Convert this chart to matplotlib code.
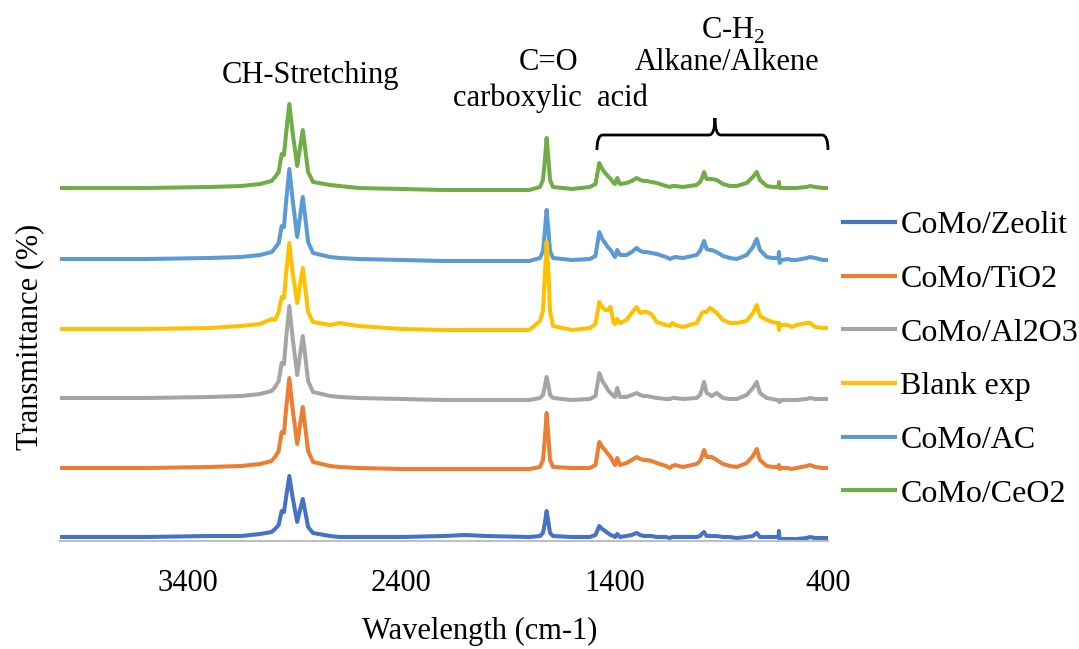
import matplotlib
matplotlib.use('Agg')
import matplotlib.pyplot as plt
from matplotlib.path import Path
from matplotlib.patches import PathPatch
from matplotlib.lines import Line2D

plt.rcParams['font.family'] = ['Liberation Serif', 'DejaVu Serif']
plt.rcParams['mathtext.fontset'] = 'custom'
plt.rcParams['mathtext.rm'] = 'Liberation Serif'

# wavenumber grid (cm-1)
wn = [4000, 3600, 3300, 3150, 3062, 3008, 2992, 2975, 2961, 2950,
      2940, 2925, 2910, 2888, 2875, 2862, 2850, 2837, 2814, 2734,
      2690, 2600, 2400, 2200, 2100, 2000, 1800, 1750, 1736, 1727,
      1719, 1710, 1703, 1689, 1600, 1516, 1490, 1472, 1458, 1445,
      1432, 1419, 1405, 1398, 1388, 1375, 1344, 1320, 1297, 1280,
      1265, 1250, 1228, 1203, 1160, 1141, 1130, 1117, 1080, 1016,
      1000, 992, 981, 969, 953, 945, 922, 892, 860, 828,
      781, 752, 734, 719, 687, 660, 641, 632, 630, 627,
      617, 590, 570, 547, 500, 484, 460, 423, 400]

# signal above each trace's own baseline
zeolit = [0, 0, 1, 1, 3, 5, 8, 12, 26, 25,
          40, 61, 40, 15, 27, 38, 25, 10, 4, 1,
          0, 0, 0, 1, 2, 1, 0, 1, 4, 14,
          26, 14, 4, 1, 0, 0, 2, 11, 8, 6,
          4, 2, 1, 0, 3, 0, 1, 2, 4, 2,
          1, 1, 1, 0, 0, -1, 0, 0, 0, 0,
          1, 3, 5, 1, 1, 1, 1, 0, 0, -1,
          0, 1, 4, 0, 0, 0, 0, 0, 6, -5,
          -2, -2, -2, -2, -1, 0, -1, -1, -1]
tio2 = [0, 0, 1, 2, 4, 7, 11, 17, 36, 35,
        59, 90, 60, 24, 43, 61, 40, 17, 6, 2,
        1, 0, -1, -1, -1, -1, -1, 1, 8, 30,
        55, 30, 8, 1, 0, 0, 3, 26, 21, 18,
        14, 11, 5, 3, 10, 3, 5, 8, 11, 9,
        8, 8, 7, 5, 2, 0, 2, 3, 1, 4,
        7, 11, 18, 11, 11, 11, 8, 4, 2, 1,
        5, 12, 19, 8, 2, 1, 1, 1, 3, -1,
        0, 0, -1, 0, 2, 3, 1, 0, 0]
al2o3 = [0, 0, 1, 2, 4, 7, 11, 17, 35, 34,
         60, 92, 61, 23, 43, 62, 41, 17, 6, 2,
         1, 0, -1, -2, -2, -2, -2, 0, 3, 12,
         21, 12, 3, 0, -2, -1, 2, 25, 17, 13,
         8, 5, 2, 1, 10, 1, 1, 3, 5, 3,
         2, 2, 1, 0, -1, -1, 0, 0, -1, 0,
         3, 8, 16, 5, 3, 2, 5, 0, -1, -1,
         3, 10, 16, 5, 0, -1, -2, -2, -3, -4,
         -2, -2, -2, -2, -1, 0, -1, -1, -1]
blank = [0, 0, 1, 3, 5, 10, 9, 17, 32, 31,
         56, 86, 57, 26, 44, 61, 40, 17, 7, 4,
         6, 3, 0, -1, -1, -1, -1, 8, 18, 55,
         87, 55, 18, 3, -1, 1, 5, 27, 22, 19,
         19, 22, 6, 5, 10, 6, 9, 16, 22, 16,
         17, 17, 15, 7, 4, 3, 6, 4, 2, 6,
         12, 16, 17, 17, 21, 20, 16, 9, 6, 6,
         8, 16, 24, 13, 9, 7, 6, 6, -1, 5,
         4, 4, 2, 4, 6, 6, 2, 1, 1]
ac = [0, 0, 1, 2, 4, 7, 11, 16, 33, 32,
      58, 90, 60, 22, 42, 62, 41, 17, 6, 2,
      1, 0, -1, -2, -2, -2, -2, 1, 8, 28,
      49, 28, 8, 1, -1, 0, 3, 27, 20, 16,
      12, 9, 4, 2, 9, 4, 4, 7, 11, 8,
      7, 7, 6, 5, 2, 0, 1, 2, 1, 4,
      8, 12, 18, 10, 9, 9, 7, 3, 1, 0,
      4, 12, 20, 9, 2, 1, 1, 1, 7, -4,
      -1, 0, -1, -1, 1, 2, 1, -1, -1]
ceo2 = [0, 0, 1, 2, 4, 7, 11, 16, 34, 33,
        55, 84, 56, 22, 40, 58, 38, 16, 6, 3,
        2, 0, -1, -2, -2, -2, -2, 1, 8, 28,
        50, 28, 8, 1, -1, 1, 4, 25, 19, 15,
        12, 9, 5, 4, 10, 4, 5, 7, 10, 8,
        7, 7, 6, 5, 2, 1, 2, 2, 1, 3,
        6, 9, 16, 9, 9, 9, 8, 4, 2, 2,
        5, 11, 16, 8, 2, 1, 1, 1, 6, 0,
        0, 0, 0, 0, 1, 2, 1, 0, 0]

names = ['CoMo/Zeolit', 'CoMo/TiO2', 'CoMo/Al2O3', 'Blank exp', 'CoMo/AC', 'CoMo/CeO2']
series = [zeolit, tio2, al2o3, blank, ac, ceo2]
offsets = [4, 73, 143, 212, 282, 353]
colors = ['#4472C4', '#ED7D31', '#A5A5A5', '#FFC000', '#5B9BD5', '#70AD47']

fig = plt.figure(figsize=(10.79, 6.49), dpi=100)
ax = fig.add_axes([60/1079, 108/649, 768/1079, 531/649])

# Excel-like drawing: last series at the back
for i in range(5, -1, -1):
    ys = [v + offsets[i] for v in series[i]]
    ax.plot(wn, ys, color=colors[i], lw=2.9, solid_joinstyle='round', solid_capstyle='round')

ax.set_xlim(4000, 400)
ax.set_ylim(0, 531)
ax.set_xticks([3400, 2400, 1400, 400])
ax.set_yticks([])
for s in ['left', 'right', 'top']:
    ax.spines[s].set_visible(False)
ax.spines['bottom'].set_color('#BFBFBF')
ax.spines['bottom'].set_linewidth(1.5)
ax.tick_params(axis='x', length=0, pad=20, labelsize=22)
ax.set_xlabel('Wavelength (cm-1)', fontsize=22)
ax.set_ylabel('Transmittance (%)', fontsize=22)
ax.xaxis.set_label_coords(0.547, -0.143)
ax.yaxis.set_label_coords(-0.021, 0.384)

# peak group labels
ax.text(2828, 466, 'CH-Stretching', ha='center', va='center', fontsize=22)
ax.text(1712, 478, 'C=O', ha='center', va='center', fontsize=22)
ax.text(1703, 443, 'carboxylic  acid', ha='center', va='center', fontsize=22)
ax.text(845, 510, r'C-H$_{\rm 2}$', ha='center', va='center', fontsize=22)
ax.text(873, 478, 'Alkane/Alkene', ha='center', va='center', fontsize=22)

# curly brace over the fingerprint region
verts = [(1483, 391), (1483, 406), (1455, 406),
         (958, 406), (930, 406), (930, 423),
         (930, 406), (902, 406),
         (428, 406), (400, 406), (400, 391)]
codes = [Path.MOVETO, Path.CURVE3, Path.CURVE3,
         Path.LINETO, Path.CURVE3, Path.CURVE3,
         Path.CURVE3, Path.CURVE3,
         Path.LINETO, Path.CURVE3, Path.CURVE3]
ax.add_patch(PathPatch(Path(verts, codes), fill=False, lw=2, color='black', clip_on=False))

handles = [Line2D([], [], color=c, lw=3) for c in colors]
fig.legend(handles, names, loc='upper left', bbox_to_anchor=(843/1079, 1 - 211/649),
           frameon=False, fontsize=23, handlelength=1.62, handletextpad=0.18,
           labelspacing=0.76, borderpad=0, borderaxespad=0)

plt.savefig('out.png', dpi=100)
